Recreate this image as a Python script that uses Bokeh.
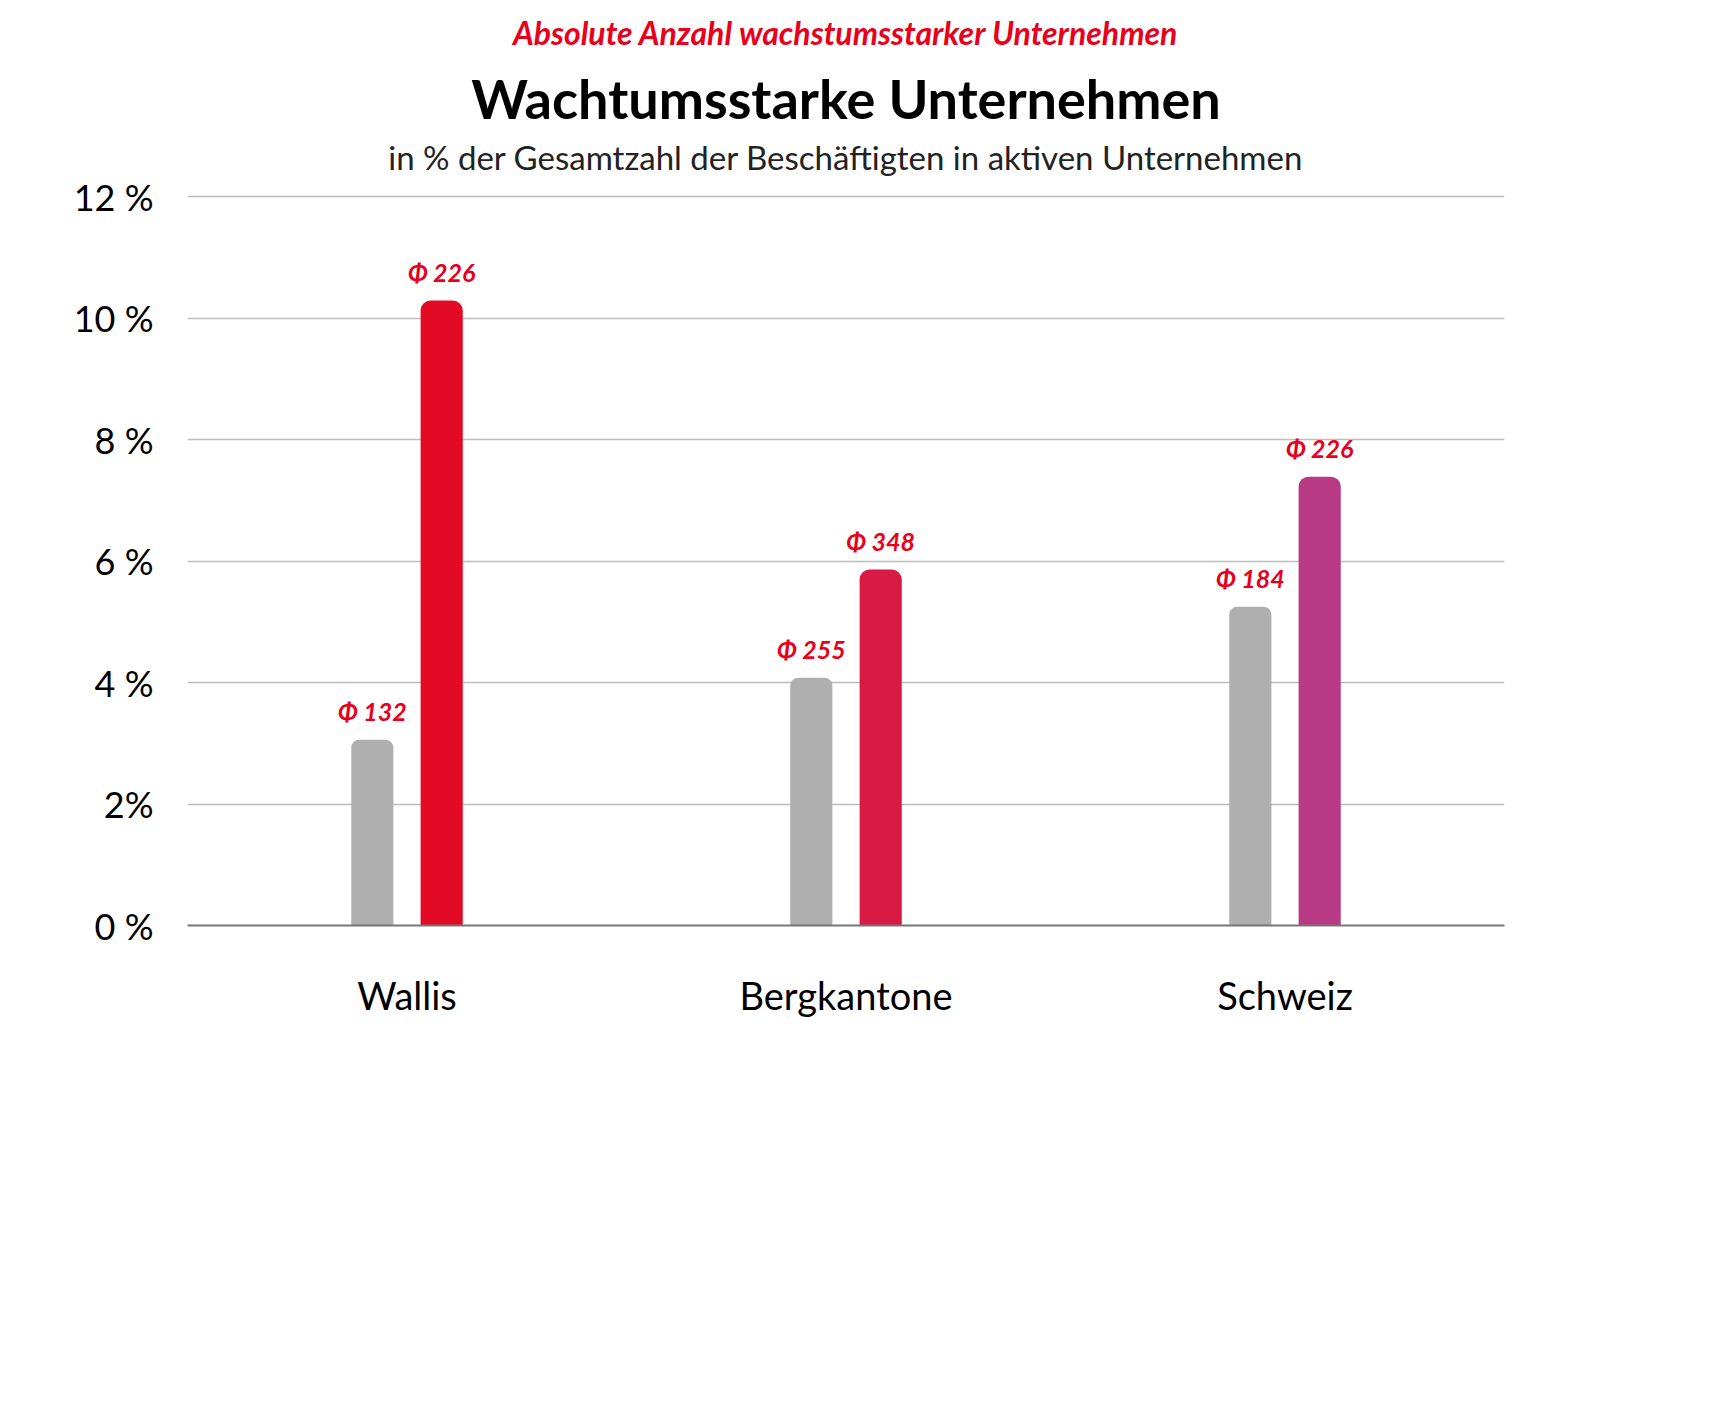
from bokeh.plotting import figure
from bokeh.models import ColumnDataSource, Range1d, Label, Legend, LegendItem, FixedTicker, Title
from bokeh.embed import file_html
from bokeh.resources import INLINE

regions = ["Wallis", "Bergkantone", "Schweiz"]
pct_2011 = [3.06, 4.08, 5.25]
pct_2020 = [10.29, 5.86, 7.39]
n_2011 = [132, 255, 184]
n_2020 = [226, 348, 226]
colors_2020 = ["#e30a25", "#d81a45", "#b83a85"]
yticks = [0, 2, 4, 6, 8, 10, 12]
ylabels = ["0 %", "2%", "4 %", "6 %", "8 %", "10 %", "12 %"]

FONT = "Lato"
RED = "#e8001c"

centers = [i + 0.5 for i in range(len(regions))]
off = 0.079
bw = 0.096

p = figure(frame_width=1317, frame_height=747, output_backend="svg", toolbar_location=None,
           x_range=Range1d(0, 3), y_range=Range1d(0, 12.3),
           min_border_left=187, min_border_right=56, min_border_top=50, min_border_bottom=30)
p.outline_line_color = None
p.background_fill_color = "white"

# titles (first = closest to plot)
p.title = Title(text="Absolute Anzahl wachstumsstarker Unternehmen", align="center",
                text_font=FONT, text_font_style="bold italic", text_font_size="32px",
                text_color=RED, standoff=20)
p.add_layout(Title(text="in % der Gesamtzahl der Beschäftigten in aktiven Unternehmen",
                   align="center", text_font=FONT, text_font_style="normal",
                   text_font_size="33px", text_color="#222222", standoff=4), "above")
p.add_layout(Title(text="Wachtumsstarke Unternehmen", align="center", text_font=FONT,
                   text_font_style="bold", text_font_size="54px", text_color="black",
                   standoff=4), "above")

src1 = ColumnDataSource(dict(x=[c - off for c in centers], top=pct_2011,
                             lab=["Φ %d" % v for v in n_2011]))
src2 = ColumnDataSource(dict(x=[c + off for c in centers], top=pct_2020, color=colors_2020,
                             lab=["Φ %d" % v for v in n_2020]))
p.vbar(x="x", top="top", width=bw, source=src1, fill_color="#afafaf", line_color=None,
       border_radius=[8, 8, 0, 0])
p.vbar(x="x", top="top", width=bw, source=src2, fill_color="color", line_color=None,
       border_radius=[10, 10, 0, 0])

for s in (src1, src2):
    d = s.data
    for x, t, lab in zip(d["x"], d["top"], d["lab"]):
        p.add_layout(Label(x=x, y=t + 0.22, text=lab, text_align="center", text_color=RED,
                           text_font=FONT, text_font_style="bold italic", text_font_size="25px"))

p.ygrid.ticker = FixedTicker(ticks=yticks)
p.ygrid.grid_line_color = "#bdbdbd"
p.ygrid.grid_line_width = 1.5
p.xgrid.grid_line_color = None

p.yaxis.ticker = FixedTicker(ticks=yticks)
p.yaxis.major_label_overrides = {t: l for t, l in zip(yticks, ylabels)}
p.yaxis.axis_line_color = None
p.yaxis.major_tick_line_color = None
p.yaxis.minor_tick_line_color = None
p.yaxis.major_label_text_font = FONT
p.yaxis.major_label_text_font_size = "36px"
p.yaxis.major_label_text_color = "black"
p.yaxis.major_label_standoff = 28

p.xaxis.ticker = FixedTicker(ticks=centers)
p.xaxis.major_label_overrides = {c: r for c, r in zip(centers, regions)}
p.xaxis.axis_line_color = "#777777"
p.xaxis.axis_line_width = 2
p.xaxis.major_tick_line_color = None
p.xaxis.minor_tick_line_color = None
p.xaxis.major_label_text_font = FONT
p.xaxis.major_label_text_font_size = "38px"
p.xaxis.major_label_text_color = "black"
p.xaxis.major_label_standoff = 40

r1 = p.scatter(x=[], y=[], size=36, fill_color="#afafaf", line_color=None)
r2 = p.scatter(x=[], y=[], size=36, fill_color="#d81a45", line_color=None)
legend = Legend(items=[LegendItem(label="2011-2014", renderers=[r1]),
                       LegendItem(label="2020-2023", renderers=[r2])],
                orientation="horizontal", location="center", border_line_color=None,
                label_text_font=FONT, label_text_font_size="38px", label_text_color="black",
                glyph_width=40, glyph_height=40, spacing=40, margin=50, padding=0)
p.add_layout(legend, "below")

open("out.html", "w").write(file_html(p, INLINE))
